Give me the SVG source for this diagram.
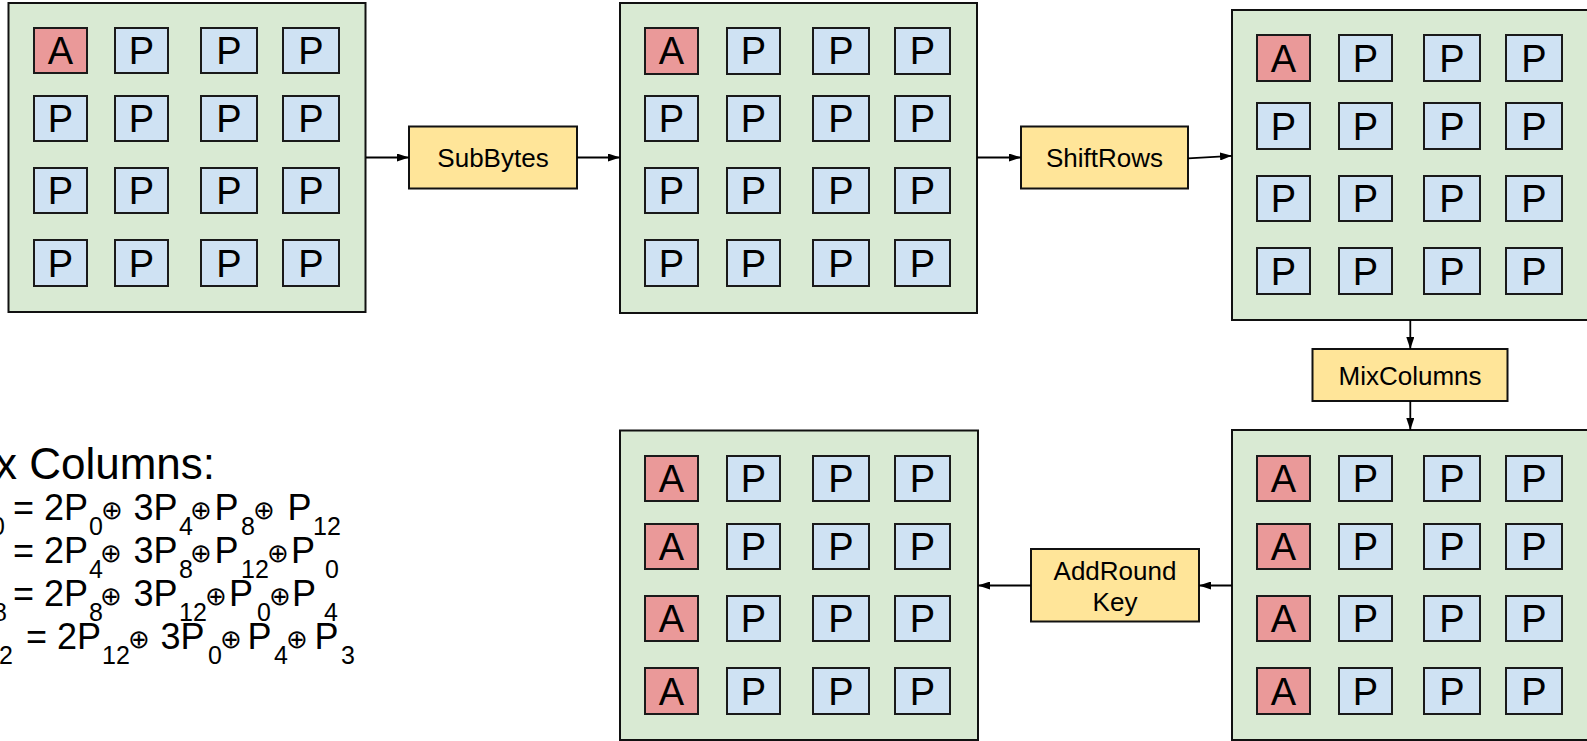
<svg xmlns="http://www.w3.org/2000/svg" width="1587" height="741" viewBox="0 0 1587 741">
<style>
.panel{fill:#d9ead3;stroke:#111;stroke-width:2}
.cp{fill:#cfe2f3;stroke:#1a1a1a;stroke-width:2}
.ca{fill:#ea9999;stroke:#1a1a1a;stroke-width:2}
.ct{font-family:"Liberation Sans",Arial,sans-serif;font-size:38px;text-anchor:middle;fill:#000}
.proc{fill:#ffe599;stroke:#111;stroke-width:2}
.pt{font-family:"Liberation Sans",Arial,sans-serif;font-size:26px;text-anchor:middle;fill:#000}
.conn{stroke:#000;stroke-width:1.8;fill:none;marker-end:url(#ah)}
.eq{font-family:"Liberation Sans",Arial,sans-serif;font-size:36px;fill:#000}
.ttl{font-size:44px}
.sb{font-size:25px}
.ox{font-family:"DejaVu Sans",sans-serif;font-size:26px;font-weight:200;text-anchor:middle;dominant-baseline:central}
</style>
<defs>
<marker id="ah" viewBox="0 0 12 8" refX="12" refY="4" markerWidth="12" markerHeight="8" markerUnits="userSpaceOnUse" orient="auto"><path d="M0,0 L12,4 L0,8 z" fill="#000"/></marker>
</defs>
<rect width="1587" height="741" fill="#fff"/>

<g id="state-input">
<rect class="panel" x="8.5" y="3" width="357" height="309"/>
<rect class="ca" x="34" y="28" width="53" height="45"/><text class="ct" x="60.5" y="64">A</text>
<rect class="cp" x="115" y="28" width="53" height="45"/><text class="ct" x="141.5" y="64">P</text>
<rect class="cp" x="201" y="28" width="56" height="45"/><text class="ct" x="229" y="64">P</text>
<rect class="cp" x="283" y="28" width="56" height="45"/><text class="ct" x="311" y="64">P</text>
<rect class="cp" x="34" y="96" width="53" height="45"/><text class="ct" x="60.5" y="132">P</text>
<rect class="cp" x="115" y="96" width="53" height="45"/><text class="ct" x="141.5" y="132">P</text>
<rect class="cp" x="201" y="96" width="56" height="45"/><text class="ct" x="229" y="132">P</text>
<rect class="cp" x="283" y="96" width="56" height="45"/><text class="ct" x="311" y="132">P</text>
<rect class="cp" x="34" y="168" width="53" height="45"/><text class="ct" x="60.5" y="204">P</text>
<rect class="cp" x="115" y="168" width="53" height="45"/><text class="ct" x="141.5" y="204">P</text>
<rect class="cp" x="201" y="168" width="56" height="45"/><text class="ct" x="229" y="204">P</text>
<rect class="cp" x="283" y="168" width="56" height="45"/><text class="ct" x="311" y="204">P</text>
<rect class="cp" x="34" y="240" width="53" height="46"/><text class="ct" x="60.5" y="276.5">P</text>
<rect class="cp" x="115" y="240" width="53" height="46"/><text class="ct" x="141.5" y="276.5">P</text>
<rect class="cp" x="201" y="240" width="56" height="46"/><text class="ct" x="229" y="276.5">P</text>
<rect class="cp" x="283" y="240" width="56" height="46"/><text class="ct" x="311" y="276.5">P</text>
</g>

<g id="state-subbytes">
<rect class="panel" x="620" y="3" width="357" height="310"/>
<rect class="ca" x="645" y="28" width="53" height="46"/><text class="ct" x="671.5" y="64">A</text>
<rect class="cp" x="727" y="28" width="53" height="46"/><text class="ct" x="753.5" y="64">P</text>
<rect class="cp" x="813" y="28" width="56" height="46"/><text class="ct" x="841" y="64">P</text>
<rect class="cp" x="895" y="28" width="55" height="46"/><text class="ct" x="922.5" y="64">P</text>
<rect class="cp" x="645" y="96" width="53" height="45"/><text class="ct" x="671.5" y="132">P</text>
<rect class="cp" x="727" y="96" width="53" height="45"/><text class="ct" x="753.5" y="132">P</text>
<rect class="cp" x="813" y="96" width="56" height="45"/><text class="ct" x="841" y="132">P</text>
<rect class="cp" x="895" y="96" width="55" height="45"/><text class="ct" x="922.5" y="132">P</text>
<rect class="cp" x="645" y="168" width="53" height="45"/><text class="ct" x="671.5" y="204">P</text>
<rect class="cp" x="727" y="168" width="53" height="45"/><text class="ct" x="753.5" y="204">P</text>
<rect class="cp" x="813" y="168" width="56" height="45"/><text class="ct" x="841" y="204">P</text>
<rect class="cp" x="895" y="168" width="55" height="45"/><text class="ct" x="922.5" y="204">P</text>
<rect class="cp" x="645" y="240" width="53" height="46"/><text class="ct" x="671.5" y="276.5">P</text>
<rect class="cp" x="727" y="240" width="53" height="46"/><text class="ct" x="753.5" y="276.5">P</text>
<rect class="cp" x="813" y="240" width="56" height="46"/><text class="ct" x="841" y="276.5">P</text>
<rect class="cp" x="895" y="240" width="55" height="46"/><text class="ct" x="922.5" y="276.5">P</text>
</g>

<g id="state-shiftrows">
<rect class="panel" x="1232" y="10" width="358" height="310"/>
<rect class="ca" x="1257" y="35" width="53" height="46"/><text class="ct" x="1283.5" y="71.5">A</text>
<rect class="cp" x="1339" y="35" width="53" height="46"/><text class="ct" x="1365.5" y="71.5">P</text>
<rect class="cp" x="1424" y="35" width="56" height="46"/><text class="ct" x="1452" y="71.5">P</text>
<rect class="cp" x="1506" y="35" width="56" height="46"/><text class="ct" x="1534" y="71.5">P</text>
<rect class="cp" x="1257" y="103" width="53" height="46"/><text class="ct" x="1283.5" y="139.5">P</text>
<rect class="cp" x="1339" y="103" width="53" height="46"/><text class="ct" x="1365.5" y="139.5">P</text>
<rect class="cp" x="1424" y="103" width="56" height="46"/><text class="ct" x="1452" y="139.5">P</text>
<rect class="cp" x="1506" y="103" width="56" height="46"/><text class="ct" x="1534" y="139.5">P</text>
<rect class="cp" x="1257" y="176" width="53" height="45"/><text class="ct" x="1283.5" y="212">P</text>
<rect class="cp" x="1339" y="176" width="53" height="45"/><text class="ct" x="1365.5" y="212">P</text>
<rect class="cp" x="1424" y="176" width="56" height="45"/><text class="ct" x="1452" y="212">P</text>
<rect class="cp" x="1506" y="176" width="56" height="45"/><text class="ct" x="1534" y="212">P</text>
<rect class="cp" x="1257" y="248" width="53" height="46"/><text class="ct" x="1283.5" y="284.5">P</text>
<rect class="cp" x="1339" y="248" width="53" height="46"/><text class="ct" x="1365.5" y="284.5">P</text>
<rect class="cp" x="1424" y="248" width="56" height="46"/><text class="ct" x="1452" y="284.5">P</text>
<rect class="cp" x="1506" y="248" width="56" height="46"/><text class="ct" x="1534" y="284.5">P</text>
</g>

<g id="state-mixcolumns">
<rect class="panel" x="1232" y="430" width="358" height="310"/>
<rect class="ca" x="1257" y="456" width="53" height="45"/><text class="ct" x="1283.5" y="492">A</text>
<rect class="cp" x="1339" y="456" width="53" height="45"/><text class="ct" x="1365.5" y="492">P</text>
<rect class="cp" x="1424" y="456" width="56" height="45"/><text class="ct" x="1452" y="492">P</text>
<rect class="cp" x="1506" y="456" width="56" height="45"/><text class="ct" x="1534" y="492">P</text>
<rect class="ca" x="1257" y="524" width="53" height="45"/><text class="ct" x="1283.5" y="560">A</text>
<rect class="cp" x="1339" y="524" width="53" height="45"/><text class="ct" x="1365.5" y="560">P</text>
<rect class="cp" x="1424" y="524" width="56" height="45"/><text class="ct" x="1452" y="560">P</text>
<rect class="cp" x="1506" y="524" width="56" height="45"/><text class="ct" x="1534" y="560">P</text>
<rect class="ca" x="1257" y="596" width="53" height="45"/><text class="ct" x="1283.5" y="632">A</text>
<rect class="cp" x="1339" y="596" width="53" height="45"/><text class="ct" x="1365.5" y="632">P</text>
<rect class="cp" x="1424" y="596" width="56" height="45"/><text class="ct" x="1452" y="632">P</text>
<rect class="cp" x="1506" y="596" width="56" height="45"/><text class="ct" x="1534" y="632">P</text>
<rect class="ca" x="1257" y="668" width="53" height="46"/><text class="ct" x="1283.5" y="704.5">A</text>
<rect class="cp" x="1339" y="668" width="53" height="46"/><text class="ct" x="1365.5" y="704.5">P</text>
<rect class="cp" x="1424" y="668" width="56" height="46"/><text class="ct" x="1452" y="704.5">P</text>
<rect class="cp" x="1506" y="668" width="56" height="46"/><text class="ct" x="1534" y="704.5">P</text>
</g>

<g id="state-addroundkey">
<rect class="panel" x="620" y="430.5" width="358" height="309.5"/>
<rect class="ca" x="645" y="456" width="53" height="45"/><text class="ct" x="671.5" y="492">A</text>
<rect class="cp" x="727" y="456" width="53" height="45"/><text class="ct" x="753.5" y="492">P</text>
<rect class="cp" x="813" y="456" width="56" height="45"/><text class="ct" x="841" y="492">P</text>
<rect class="cp" x="895" y="456" width="55" height="45"/><text class="ct" x="922.5" y="492">P</text>
<rect class="ca" x="645" y="524" width="53" height="45"/><text class="ct" x="671.5" y="560">A</text>
<rect class="cp" x="727" y="524" width="53" height="45"/><text class="ct" x="753.5" y="560">P</text>
<rect class="cp" x="813" y="524" width="56" height="45"/><text class="ct" x="841" y="560">P</text>
<rect class="cp" x="895" y="524" width="55" height="45"/><text class="ct" x="922.5" y="560">P</text>
<rect class="ca" x="645" y="596" width="53" height="45"/><text class="ct" x="671.5" y="632">A</text>
<rect class="cp" x="727" y="596" width="53" height="45"/><text class="ct" x="753.5" y="632">P</text>
<rect class="cp" x="813" y="596" width="56" height="45"/><text class="ct" x="841" y="632">P</text>
<rect class="cp" x="895" y="596" width="55" height="45"/><text class="ct" x="922.5" y="632">P</text>
<rect class="ca" x="645" y="668" width="53" height="46"/><text class="ct" x="671.5" y="704.5">A</text>
<rect class="cp" x="727" y="668" width="53" height="46"/><text class="ct" x="753.5" y="704.5">P</text>
<rect class="cp" x="813" y="668" width="56" height="46"/><text class="ct" x="841" y="704.5">P</text>
<rect class="cp" x="895" y="668" width="55" height="46"/><text class="ct" x="922.5" y="704.5">P</text>
</g>

<g id="op-subbytes">
<rect class="proc" x="409" y="126.5" width="168" height="62"/>
<text class="pt" x="493" y="167">SubBytes</text>
</g>
<g id="op-shiftrows">
<rect class="proc" x="1021" y="126.5" width="167" height="62"/>
<text class="pt" x="1104.5" y="167">ShiftRows</text>
</g>
<g id="op-mixcolumns">
<rect class="proc" x="1312.5" y="349" width="195" height="52"/>
<text class="pt" x="1410" y="384.5">MixColumns</text>
</g>
<g id="op-addroundkey">
<rect class="proc" x="1031" y="549" width="168" height="72.5"/>
<text class="pt" x="1115" y="579.5">AddRound</text>
<text class="pt" x="1115" y="610.5">Key</text>
</g>

<g id="connectors">
<path class="conn" d="M366,157.5 L409,157.5"/>
<path class="conn" d="M577,157.5 L620,157.5"/>
<path class="conn" d="M977,157.5 L1021,157.5"/>
<path class="conn" d="M1188,158.3 L1232,155.8"/>
<path class="conn" d="M1410.3,320 L1410.3,349"/>
<path class="conn" d="M1410.3,401 L1410.3,430"/>
<path class="conn" d="M1232,585.5 L1199,585.5"/>
<path class="conn" d="M1031,585.5 L978,585.5"/>
</g>

<g id="mix-columns-equations" class="eq">
<text class="ttl" x="-5" y="479">x Columns:</text>

<text class="sb" x="-9" y="535">0</text>
<text x="13" y="520">= 2P</text><text class="sb" x="89" y="535">0</text><text class="ox" x="111.5" y="510">⊕</text>
<text x="133.5" y="520">3P</text><text class="sb" x="179" y="535">4</text><text class="ox" x="200.5" y="510">⊕</text>
<text x="214.5" y="520">P</text><text class="sb" x="241" y="535">8</text><text class="ox" x="263.5" y="510">⊕</text>
<text x="287.5" y="520">P</text><text class="sb" x="313" y="535">12</text>

<text x="13" y="563">= 2P</text><text class="sb" x="89" y="578">4</text><text class="ox" x="111" y="553">⊕</text>
<text x="133.5" y="563">3P</text><text class="sb" x="179" y="578">8</text><text class="ox" x="200.5" y="553">⊕</text>
<text x="214.5" y="563">P</text><text class="sb" x="241" y="578">12</text><text class="ox" x="278" y="553">⊕</text>
<text x="291" y="563">P</text><text class="sb" x="325" y="578">0</text>

<text class="sb" x="-7" y="621">8</text>
<text x="13" y="606">= 2P</text><text class="sb" x="89" y="621">8</text><text class="ox" x="111" y="596">⊕</text>
<text x="133.5" y="606">3P</text><text class="sb" x="179" y="621">12</text><text class="ox" x="216" y="596">⊕</text>
<text x="229" y="606">P</text><text class="sb" x="257" y="621">0</text><text class="ox" x="280" y="596">⊕</text>
<text x="292" y="606">P</text><text class="sb" x="324" y="621">4</text>

<text class="sb" x="-1" y="664">2</text>
<text x="26" y="649">= 2P</text><text class="sb" x="102" y="664">12</text><text class="ox" x="139" y="639">⊕</text>
<text x="160.5" y="649">3P</text><text class="sb" x="208" y="664">0</text><text class="ox" x="231" y="639">⊕</text>
<text x="247.5" y="649">P</text><text class="sb" x="274" y="664">4</text><text class="ox" x="297" y="639">⊕</text>
<text x="314.5" y="649">P</text><text class="sb" x="341" y="664">3</text>
</g>
</svg>
